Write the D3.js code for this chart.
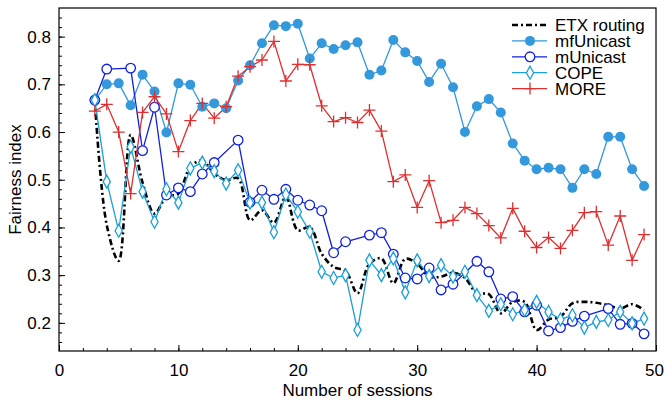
<!DOCTYPE html>
<html>
<head>
<meta charset="utf-8">
<script src="https://cdn.jsdelivr.net/npm/d3@7"></script>
<style>
  body { margin: 0; background: #fff; }
  svg { font-family: "Liberation Sans", Arial, Helvetica, sans-serif; }
</style>
</head>
<body>
<figure id="chart" style="margin:0;width:665px;height:403px"></figure>
<script>
// sessions 3..49
const sessions = d3.range(3, 50)

const etx = [0.667, 0.405, 0.330, 0.594, 0.494, 0.429, 0.464, 0.471, 0.527, 0.540,
  0.513, 0.499, 0.503, 0.415, 0.436, 0.410, 0.464, 0.394, 0.401, 0.345,
  0.317, 0.309, 0.262, 0.324, 0.335, 0.283, 0.334, 0.324, 0.297, 0.297,
  0.305, 0.294, 0.262, 0.260, 0.220, 0.244, 0.244, 0.185, 0.207, 0.213,
  0.241, 0.244, 0.242, 0.237, 0.230, 0.239, 0.227]

const mfUnicast = [0.667, 0.700, 0.702, 0.656, 0.720, 0.685, 0.599, 0.702, 0.699, 0.653,
  0.660, 0.650, 0.708, 0.740, 0.786, 0.824, 0.822, 0.827, 0.754, 0.786,
  0.774, 0.782, 0.788, 0.720, 0.729, 0.793, 0.767, 0.749, 0.705, 0.743,
  0.694, 0.600, 0.654, 0.669, 0.641, 0.576, 0.540, 0.522, 0.525, 0.522,
  0.483, 0.522, 0.512, 0.590, 0.590, 0.522, 0.487]

// mUnicast has no marker at a few sessions
const mUnicastX = [3, 4, 6, 7, 8, 9, 10, 11, 12, 13, 15, 16, 17, 18, 19, 20, 21, 22, 23, 24,
  26, 27, 28, 29, 30, 31, 32, 33, 35, 36, 37, 38, 39, 40, 41, 42, 43, 44, 46, 47, 48, 49]
const mUnicast = [0.667, 0.732, 0.734, 0.561, 0.652, 0.468, 0.483, 0.475, 0.512, 0.536,
  0.583, 0.453, 0.478, 0.459, 0.480, 0.457, 0.447, 0.435, 0.347, 0.370,
  0.384, 0.389, 0.344, 0.294, 0.292, 0.315, 0.269, 0.281, 0.329, 0.307,
  0.250, 0.255, 0.223, 0.237, 0.183, 0.190, 0.203, 0.214, 0.230, 0.197,
  0.199, 0.177]

const cope = [0.667, 0.496, 0.393, 0.569, 0.475, 0.412, 0.480, 0.452, 0.524, 0.536,
  0.518, 0.492, 0.520, 0.452, 0.452, 0.390, 0.469, 0.433, 0.391, 0.307,
  0.294, 0.300, 0.185, 0.331, 0.300, 0.335, 0.264, 0.331, 0.298, 0.321,
  0.297, 0.307, 0.258, 0.225, 0.239, 0.218, 0.227, 0.244, 0.223, 0.207,
  0.216, 0.190, 0.202, 0.206, 0.223, 0.199, 0.209]

const more = [0.644, 0.658, 0.600, 0.471, 0.641, 0.674, 0.638, 0.559, 0.624, 0.660,
  0.629, 0.653, 0.717, 0.737, 0.751, 0.790, 0.707, 0.742, 0.741, 0.655,
  0.622, 0.630, 0.620, 0.646, 0.602, 0.496, 0.510, 0.442, 0.498, 0.410,
  0.415, 0.442, 0.429, 0.404, 0.378, 0.440, 0.392, 0.358, 0.379, 0.356,
  0.394, 0.431, 0.433, 0.363, 0.424, 0.331, 0.385]

const xTicks = [0, 10, 20, 30, 40, 50]
const yTicks = [0.2, 0.3, 0.4, 0.5, 0.6, 0.7, 0.8]

const series = [
  { name: "ETX routing", xs: sessions, ys: etx, color: "#000", marker: "none", dash: "6,3,2,3", width: 2.6, curve: d3.curveCatmullRom },
  { name: "mfUnicast", xs: sessions, ys: mfUnicast, color: "#3398dc", marker: "dot", width: 1.3, curve: d3.curveLinear },
  { name: "mUnicast", xs: mUnicastX, ys: mUnicast, color: "#1020e0", marker: "circle", width: 1.3, curve: d3.curveLinear },
  { name: "COPE", xs: sessions, ys: cope, color: "#1c9fd4", marker: "diamond", width: 1.3, curve: d3.curveLinear },
  { name: "MORE", xs: sessions, ys: more, color: "#dd3030", marker: "plus", width: 1.3, curve: d3.curveLinear },
]

const width = 665, height = 403
const margin = { top: 8, right: 9, bottom: 52, left: 59 }
const innerWidth = width - margin.left - margin.right
const innerHeight = height - margin.top - margin.bottom
const fontSize = 17

const xScale = d3.scaleLinear().domain([0, 50]).range([0, innerWidth])
const yScale = d3.scaleLinear().domain([0.141, 0.86]).range([innerHeight, 0])

const svg = d3.select("#chart").append("svg")
  .attr("width", width)
  .attr("height", height)

const g = svg.append("g")
  .attr("transform", `translate(${margin.left}, ${margin.top})`)

// frame
g.append("rect")
  .attr("width", innerWidth)
  .attr("height", innerHeight)
  .attr("fill", "none")
  .attr("stroke", "#000")
  .attr("stroke-width", 1.2)

// ticks, pointing inward
const xAxis = d3.axisBottom(xScale).tickValues(xTicks).tickSizeInner(-6).tickSizeOuter(0).tickPadding(13).tickFormat(d3.format("d"))
const xMinor = d3.axisBottom(xScale).tickValues(d3.range(0, 51, 2)).tickSize(-3).tickFormat("")
const yAxis = d3.axisLeft(yScale).tickValues(yTicks).tickSizeInner(-6).tickSizeOuter(0).tickPadding(8).tickFormat(d3.format(".1f"))
const yMinor = d3.axisLeft(yScale).tickValues(d3.range(0.16, 0.86, 0.02)).tickSize(-3).tickFormat("")

for (const ax of [xMinor, xAxis]) {
  g.append("g").attr("class", "xaxis")
    .attr("transform", `translate(0, ${innerHeight})`)
    .call(ax)
}
for (const ax of [yMinor, yAxis]) {
  g.append("g").attr("class", "yaxis").call(ax)
}
g.selectAll(".domain").remove()
g.selectAll(".tick text").filter(function () { return this.textContent === "" }).remove()
g.selectAll(".tick line").attr("stroke", "#000").attr("stroke-width", 1)
g.selectAll(".tick text").attr("font-size", fontSize).attr("fill", "#000")
// keep the last x label inside the picture
g.selectAll(".xaxis .tick text").filter(d => d === 50).attr("dx", -2)

// lines
const lines = g.append("g")
series.forEach(s => {
  const pts = s.xs.map((x, i) => [x, s.ys[i]])
  const line = d3.line().curve(s.curve)
    .x(d => xScale(d[0]))
    .y(d => yScale(d[1]))
  lines.append("path")
    .attr("d", line(pts))
    .attr("fill", "none")
    .attr("stroke", s.color)
    .attr("stroke-width", s.width)
    .attr("stroke-dasharray", s.dash || null)
    .attr("stroke-linejoin", "round")
})

function drawMarker(sel, s) {
  if (s.marker === "dot") {
    sel.append("circle").attr("r", 5).attr("fill", s.color)
  } else if (s.marker === "circle") {
    sel.append("circle").attr("r", 4.8).attr("fill", "#fff").attr("stroke", s.color).attr("stroke-width", 1.3)
  } else if (s.marker === "diamond") {
    sel.append("path").attr("d", "M0,-6.5L3.6,0L0,6.5L-3.6,0Z").attr("fill", "#fff").attr("stroke", s.color).attr("stroke-width", 1.3)
  } else if (s.marker === "plus") {
    sel.append("path").attr("d", "M-6,0H6M0,-6V6").attr("stroke", s.color).attr("stroke-width", 1.3)
  }
}

series.forEach(s => {
  if (s.marker === "none") return
  const pts = s.xs.map((x, i) => [x, s.ys[i]])
  g.append("g").selectAll("g")
    .data(pts)
    .join("g")
    .attr("transform", d => `translate(${xScale(d[0])}, ${yScale(d[1])})`)
    .each(function () { drawMarker(d3.select(this), s) })
})

// legend
const legend = svg.append("g").attr("transform", "translate(512, 25)")
series.forEach((s, i) => {
  const row = legend.append("g").attr("transform", `translate(0, ${i * 15.9})`)
  row.append("line")
    .attr("x1", 0).attr("x2", 35)
    .attr("stroke", s.color)
    .attr("stroke-width", s.marker === "none" ? 2.6 : 1.3)
    .attr("stroke-dasharray", s.dash || null)
  if (s.marker !== "none") drawMarker(row.append("g").attr("transform", "translate(18, 0)"), s)
  row.append("text")
    .attr("x", 43)
    .attr("dy", "0.35em")
    .attr("font-size", fontSize)
    .text(s.name)
})

// axis titles
svg.append("text")
  .attr("x", margin.left + innerWidth / 2)
  .attr("y", 396)
  .attr("text-anchor", "middle")
  .attr("font-size", fontSize)
  .text("Number of sessions")

svg.append("text")
  .attr("transform", `translate(21, ${margin.top + innerHeight / 2}) rotate(-90)`)
  .attr("text-anchor", "middle")
  .attr("font-size", fontSize)
  .text("Fairness index")
</script>
</body>
</html>
